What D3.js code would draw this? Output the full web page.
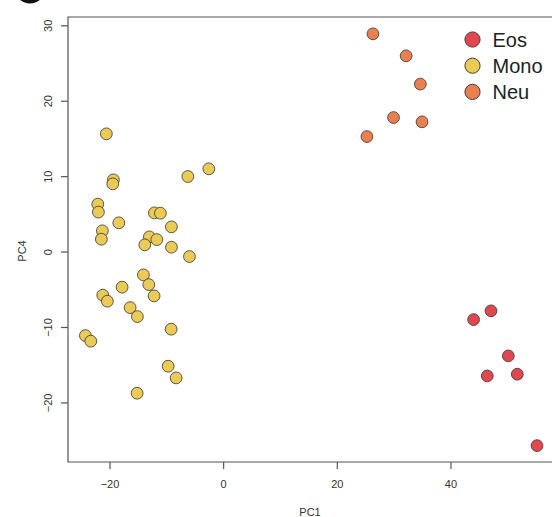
<!DOCTYPE html>
<html><head><meta charset="utf-8">
<script src="https://cdn.jsdelivr.net/npm/d3@7"></script>
<style>body{margin:0;background:#fff}svg{display:block}text{font-family:"Liberation Sans",Arial,Helvetica,sans-serif}</style>
</head><body>
<script>
const groups = ["Eos", "Mono", "Neu"];
const groupColors = ["#E0474E", "#EBCB55", "#EA804F"];
const xTicks = [-20, 0, 20, 40];
const yTicks = [-20, -10, 0, 10, 20, 30];

const monoPC1 = [-20.55,-2.52,-6.21,-19.31,-19.42,-22.06,-21.95,-12.10,-11.04,-18.36,-9.10,-21.25,-21.43,-12.98,-11.67,-13.79,-9.10,-5.93,-14.03,-13.08,-17.78,-21.18,-20.37,-12.15,-16.37,-15.09,-9.15,-24.24,-23.29,-9.68,-8.27,-15.14];
const monoPC4 = [15.61,10.97,9.95,9.51,8.98,6.29,5.23,5.13,5.09,3.81,3.28,2.75,1.64,1.95,1.59,0.89,0.58,-0.66,-3.09,-4.38,-4.72,-5.78,-6.58,-5.88,-7.43,-8.62,-10.29,-11.14,-11.88,-15.2,-16.75,-18.78];
const neuPC1 = [26.36,32.2,34.7,29.98,35.0,25.3];
const neuPC4 = [28.87,25.95,22.2,17.77,17.2,15.25];
const eosPC1 = [47.13,44.07,50.18,46.48,51.76,55.23];
const eosPC4 = [-7.86,-9.02,-13.83,-16.49,-16.26,-25.73];

const W = 552, H = 517;
const svg = d3.select("body").append("svg").attr("width", W).attr("height", H);

const x = d3.scaleLinear().domain([-27.3, 60]).range([68, 68 + 87.3 * 5.683]);
const y = d3.scaleLinear().domain([-27.9, 31.1]).range([462, 17]);

// cropped panel letter
svg.append("ellipse").attr("cx", 30).attr("cy", -9).attr("rx", 14).attr("ry", 12.5).attr("fill", "#111");

const axisCol = "#555";
svg.append("path")
  .attr("d", `M${x.range()[1]},${y.range()[1]}H${x.range()[0]}V${y.range()[0]}H${x.range()[1]}`)
  .attr("fill", "none").attr("stroke", axisCol).attr("stroke-width", 1.2);

const xa = svg.append("g").attr("transform", `translate(0,${y.range()[0]})`)
  .call(d3.axisBottom(x).tickValues(xTicks).tickSize(7).tickFormat(d => d < 0 ? "\u2212" + Math.abs(d) : d));
xa.select(".domain").remove();
xa.selectAll("line").attr("stroke", axisCol).attr("stroke-width", 1.2);
xa.selectAll("text").attr("font-size", 11).attr("fill", "#333").attr("dy", "0").attr("y", 26);

const ya = svg.append("g").attr("transform", `translate(${x.range()[0]},0)`)
  .call(d3.axisLeft(y).tickValues(yTicks).tickSize(7).tickFormat(d => d < 0 ? "\u2212" + Math.abs(d) : d));
ya.select(".domain").remove();
ya.selectAll("line").attr("stroke", axisCol).attr("stroke-width", 1.2);
ya.selectAll("text").attr("font-size", 11).attr("fill", "#333")
  .attr("x", null).attr("dy", null)
  .attr("text-anchor", "middle")
  .attr("transform", "translate(-16,0) rotate(-90)")
  .attr("y", 0);

svg.append("text").attr("x", 310).attr("y", 516).attr("text-anchor", "middle")
  .attr("font-size", 11).attr("fill", "#333").text("PC1");
svg.append("text").attr("transform", "translate(26,251) rotate(-90)").attr("text-anchor", "middle")
  .attr("font-size", 11).attr("fill", "#333").text("PC4");

const series = [
  {g: "Mono", xs: monoPC1, ys: monoPC4},
  {g: "Neu", xs: neuPC1, ys: neuPC4},
  {g: "Eos", xs: eosPC1, ys: eosPC4}
];
const color = d3.scaleOrdinal().domain(groups).range(groupColors);
series.forEach(s => {
  svg.append("g").selectAll("circle").data(s.xs.map((v, i) => [v, s.ys[i]])).join("circle")
    .attr("cx", d => x(d[0])).attr("cy", d => y(d[1])).attr("r", 5.9)
    .attr("fill", color(s.g)).attr("stroke", "#3d3d3d").attr("stroke-opacity", 0.85).attr("stroke-width", 1);
});

const lg = svg.append("g");
groups.forEach((g, i) => {
  const cy = 39.5 + i * 26.2;
  lg.append("circle").attr("cx", 472.5).attr("cy", cy).attr("r", 7.6)
    .attr("fill", color(g)).attr("stroke", "#4a3a40").attr("stroke-width", 1);
  lg.append("text").attr("x", 492.5).attr("y", cy + 7).attr("font-size", 20).attr("fill", "#222").text(g);
});
</script>
</body></html>
